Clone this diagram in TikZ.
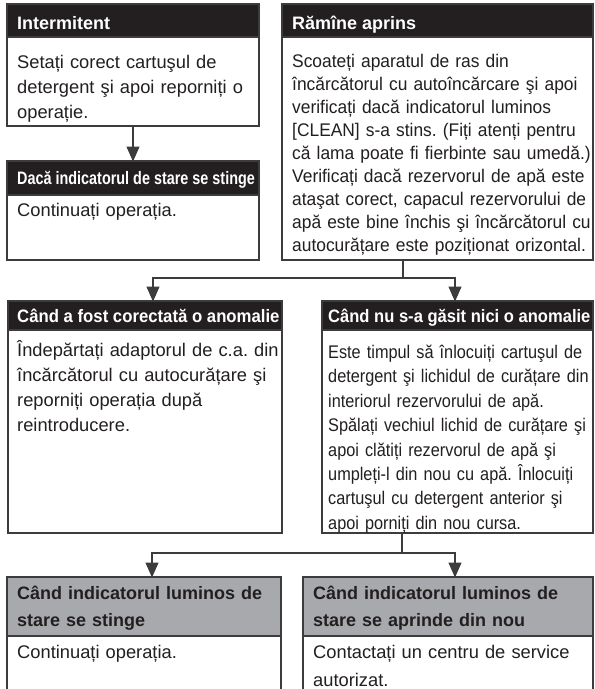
\documentclass[tikz,border=0pt]{standalone}
\usepackage{fontspec}
\usepackage{graphicx}
\setmainfont{Liberation Sans}
\newfontfamily\fontC{Liberation Sans}[FakeStretch=0.95]
\newfontfamily\fontE{Liberation Sans}[FakeStretch=0.89]
\usetikzlibrary{arrows.meta,calc}
\definecolor{hdrblack}{HTML}{231F20}
\definecolor{hdrgrey}{HTML}{A7A9AC}
\definecolor{edgecol}{HTML}{3C3C3C}
\definecolor{inkcol}{HTML}{231F20}
\begin{document}
\frenchspacing
\begin{tikzpicture}[x=1pt,y=-1pt,
  boxframe/.style={draw=edgecol, line width=1.1pt, anchor=north west, inner sep=0pt, outer sep=0pt},
  darkhead/.style={boxframe, fill=hdrblack},
  greyhead/.style={boxframe, fill=hdrgrey},
  bodybox/.style={boxframe, fill=white},
  headtext/.style={anchor=base west, inner sep=0pt, text=white, font=\fontsize{18}{22}\selectfont\bfseries},
  greytext/.style={anchor=base west, inner sep=0pt, text=inkcol, align=left, text width=330pt, font=\fontsize{18}{27}\selectfont\bfseries},
  bodytext/.style={anchor=base west, inner sep=0pt, text=inkcol, align=left, text width=340pt},
  conn/.style={draw=edgecol, line width=1.1pt},
  arr/.style={conn, -{Triangle[width=13pt,length=15pt]}, shorten >=-0.5pt}
]
\useasboundingbox (0,0) rectangle (595,689);

% ---------- Box A : Intermitent ----------
\node[darkhead, minimum width=252pt, minimum height=33pt] (hA) at (7,4) {};
\node[bodybox, minimum width=252pt, minimum height=89pt] (bA) at (7,37) {};
\node[headtext] (tA) at (17,29.5) {Intermitent};
\node[bodytext, font=\fontsize{18.3}{25}\selectfont] (xA) at (17,68.5)
  {Setați corect cartuşul de\\detergent şi apoi reporniți o\\operație.};

% ---------- Box B ----------
\node[darkhead, minimum width=252pt, minimum height=34pt] (hB) at (7,161) {};
\node[bodybox, minimum width=252pt, minimum height=65pt] (bB) at (7,195) {};
\node[headtext] (tB) at (17,184.5) {\scalebox{0.8}[1]{Dacă indicatorul de stare se stinge}};
\node[bodytext, font=\fontsize{18.3}{25}\selectfont] (xB) at (17,216.5) {Continuați operația.};

% ---------- Box C : Rămîne aprins ----------
\node[darkhead, minimum width=311pt, minimum height=33pt] (hC) at (282,4) {};
\node[bodybox, minimum width=311pt, minimum height=223pt] (bC) at (282,37) {};
\node[headtext] (tC) at (292,29.5) {Rămîne aprins};
\node[bodytext, font=\fontC\fontsize{18.3}{23}\selectfont] (xC) at (292,67)
  {Scoateți aparatul de ras din\\
   încărcătorul cu autoîncărcare şi apoi\\
   verificați dacă indicatorul luminos\\
   {[}CLEAN{]} s-a stins. (Fiți atenți pentru\\
   că lama poate fi fierbinte sau umedă.)\\
   Verificați dacă rezervorul de apă este\\
   ataşat corect, capacul rezervorului de\\
   apă este bine închis şi încărcătorul cu\\
   autocurățare este poziționat orizontal.};

% ---------- Box D ----------
\node[darkhead, minimum width=274pt, minimum height=29pt] (hD) at (8,301) {};
\node[bodybox, minimum width=274pt, minimum height=203pt] (bD) at (8,330) {};
\node[headtext] (tD) at (17,322.5) {\scalebox{0.93}[1]{Când a fost corectată o anomalie}};
\node[bodytext, font=\fontsize{18.3}{25}\selectfont] (xD) at (17,356.5)
  {Îndepărtați adaptorul de c.a. din\\
   încărcătorul cu autocurățare şi\\
   reporniți operația după\\
   reintroducere.};

% ---------- Box E ----------
\node[darkhead, minimum width=271pt, minimum height=29pt] (hE) at (322,301) {};
\node[bodybox, minimum width=271pt, minimum height=203pt] (bE) at (322,330) {};
\node[headtext] (tE) at (328,322) {\scalebox{0.92}[1]{Când nu s-a găsit nici o anomalie}};
\node[bodytext, font=\fontE\fontsize{18.3}{24.4}\selectfont] (xE) at (328,358.5)
  {Este timpul să înlocuiți cartuşul de\\
   detergent şi lichidul de curățare din\\
   interiorul rezervorului de apă.\\
   Spălați vechiul lichid de curățare şi\\
   apoi clătiți rezervorul de apă şi\\
   umpleți-l din nou cu apă. Înlocuiți\\
   cartuşul cu detergent anterior şi\\
   apoi porniți din nou cursa.};

% ---------- Box F ----------
\node[greyhead, minimum width=274pt, minimum height=59pt] (hF) at (7,577) {};
\node[bodybox, minimum width=274pt, minimum height=70pt] (bF) at (7,636) {};
\node[greytext] (tF) at (17,599.5) {Când indicatorul luminos de\\stare se stinge};
\node[bodytext, font=\fontsize{18.3}{28}\selectfont] (xF) at (17,658.5) {Continuați operația.};

% ---------- Box G ----------
\node[greyhead, minimum width=290pt, minimum height=59pt] (hG) at (303,577) {};
\node[bodybox, minimum width=290pt, minimum height=70pt] (bG) at (303,636) {};
\node[greytext] (tG) at (313,599.5) {Când indicatorul luminos de\\stare se aprinde din nou};
\node[bodytext, font=\fontsize{18.3}{28}\selectfont] (xG) at (313,658.5)
  {Contactați un centru de service\\autorizat.};

% ---------- Connectors ----------
\draw[arr] (bA.south) -- (hB.north);

\coordinate (jC) at (403,278);
\draw[conn] (jC |- bC.south) -- (jC);
\draw[arr] (jC) -| ([xshift=8pt]hD.north);
\draw[arr] (jC) -| ([xshift=-2.5pt]hE.north);

\coordinate (jE) at (402,553);
\draw[conn] (jE |- bE.south) -- (jE);
\draw[arr] (jE) -| ([xshift=8pt]hF.north);
\draw[arr] (jE) -| ([xshift=7pt]hG.north);
\end{tikzpicture}
\end{document}
